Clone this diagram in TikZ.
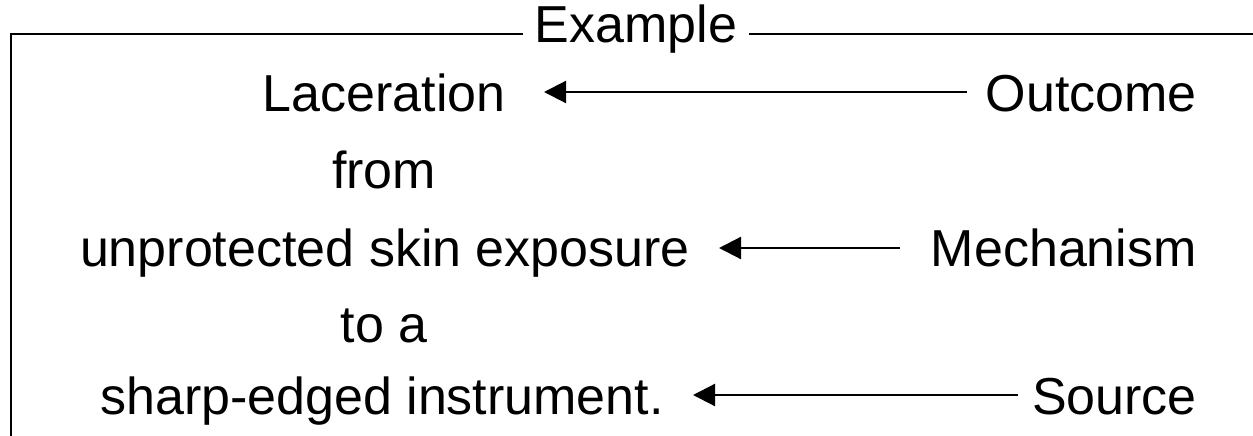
\documentclass[tikz,border=0pt]{standalone}
\usepackage{fontspec}
\setmainfont{Liberation Sans}
\usetikzlibrary{arrows.meta}
\begin{document}
\begin{tikzpicture}[x=1pt,y=-1pt,
  txt/.style={font=\fontsize{52}{60}\selectfont, inner sep=0pt, anchor=base},
  frameline/.style={line width=2.8pt, line cap=rect},
  conn/.style={line width=2.2pt, -{Triangle[length=22pt,width=22pt]}}]
\useasboundingbox (0,0) rectangle (1253,436);
% frame
\node[txt, inner xsep=13pt] (title) at (636,43) {Example};
\coordinate (tl) at (11,34);
\coordinate (bl) at (11,440);
\coordinate (tr) at (1258,34);
\draw[frameline] (title.west |- tl) -- (tl) -- (bl);
\draw[frameline] (title.east |- tr) -- (tr);
% left column
\node[txt] (lac) at (384,111) {Laceration};
\node[txt] (from) at (384,188) {from};
\node[txt] (unp) at (385,266) {unprotected skin exposure};
\node[txt] (toa) at (384,342) {to a};
\node[txt] (sharp) at (382,414) {sharp-edged instrument.};
% right column
\node[txt, anchor=base east] (out) at (1197,111) {Outcome};
\node[txt, anchor=base east] (mech) at (1197,266) {Mechanism};
\node[txt, anchor=base east] (src) at (1197,414) {Source};
% connectors
\coordinate (a1s) at (967,92);
\coordinate (a1e) at (544,92);
\coordinate (a2s) at (900,248);
\coordinate (a2e) at (719,248);
\coordinate (a3s) at (1018,395);
\coordinate (a3e) at (693,395);
\draw[conn] (a1s) -- (a1e);
\draw[conn] (a2s) -- (a2e);
\draw[conn] (a3s) -- (a3e);
\end{tikzpicture}
\end{document}
